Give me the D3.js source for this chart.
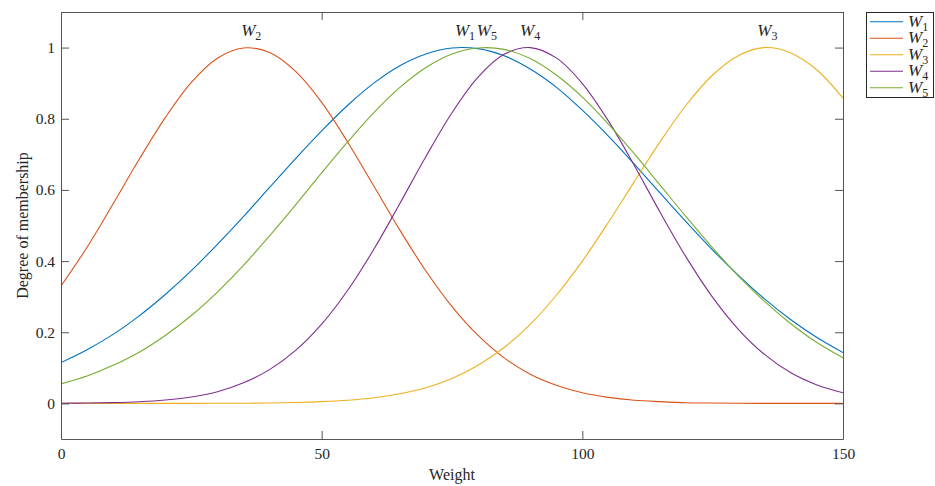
<!DOCTYPE html>
<html>
<head>
<meta charset="utf-8">
<script src="https://cdn.jsdelivr.net/npm/d3@7"></script>
<style>
  body { margin: 0; background: #fff; }
  text { font-family: "Liberation Serif", "Times New Roman", serif; fill: #262626; }
  .axis path, .axis line { stroke: #555; stroke-width: 1; }
  .axis text { font-size: 15.5px; fill: #262626; }
</style>
</head>
<body>
<div id="chart"></div>
<script>
// sample positions along the weight axis
const weight = [0, 5, 10, 15, 20, 25, 30, 35, 40, 45, 50, 55, 60, 65, 70, 75,
  80, 85, 90, 95, 100, 105, 110, 115, 120, 125, 130, 135, 140, 145, 150];

// membership values
const w1 = [0.115, 0.151, 0.194, 0.246, 0.306, 0.373, 0.447, 0.525, 0.607, 0.688, 0.766,
  0.838, 0.900, 0.949, 0.982, 0.999, 0.997, 0.977, 0.940, 0.889, 0.824, 0.751, 0.672,
  0.590, 0.509, 0.431, 0.359, 0.293, 0.235, 0.185, 0.143];
const w2 = [0.330, 0.439, 0.561, 0.686, 0.803, 0.902, 0.970, 0.999, 0.986, 0.933, 0.846,
  0.734, 0.611, 0.487, 0.372, 0.272, 0.191, 0.128, 0.082, 0.051, 0.030, 0.017, 0.009,
  0.005, 0.002, 0.001, 0.0005, 0.0002, 0.0001, 0, 0];
const w3 = [0, 0, 0, 0, 0.0001, 0.0001, 0.0003, 0.0006, 0.0013, 0.0026, 0.0049, 0.009,
  0.016, 0.027, 0.044, 0.070, 0.107, 0.157, 0.222, 0.304, 0.400, 0.509, 0.624, 0.737,
  0.840, 0.923, 0.978, 1.0, 0.985, 0.937, 0.858];
const w4 = [0.0005, 0.001, 0.0023, 0.0048, 0.0096, 0.018, 0.033, 0.058, 0.095, 0.149,
  0.223, 0.318, 0.433, 0.562, 0.694, 0.817, 0.917, 0.981, 1.0, 0.971, 0.899, 0.794,
  0.668, 0.535, 0.409, 0.298, 0.207, 0.137, 0.086, 0.052, 0.030];
const w5 = [0.055, 0.077, 0.107, 0.144, 0.191, 0.247, 0.313, 0.388, 0.471, 0.558, 0.648,
  0.735, 0.817, 0.888, 0.944, 0.982, 0.999, 0.995, 0.969, 0.923, 0.861, 0.785, 0.701,
  0.612, 0.523, 0.437, 0.357, 0.286, 0.224, 0.171, 0.128];

const seriesNames = ["1", "2", "3", "4", "5"];
const seriesValues = [w1, w2, w3, w4, w5];
const colors = ["#0072BD", "#D95319", "#EDB120", "#7E2F8E", "#77AC30"];

// peak labels drawn above each curve
const peakLabelX = [77.5, 36.5, 135.5, 90, 81.7];

const xTicks = [0, 50, 100, 150];
const yTicks = [0, 0.2, 0.4, 0.6, 0.8, 1];

const width = 935;
const height = 486;
const margin = { left: 61, right: 92, top: 12, bottom: 47 };

const svg = d3.select("#chart").append("svg")
  .attr("width", width)
  .attr("height", height);

const x = d3.scaleLinear()
  .domain([0, 150])
  .range([margin.left, width - margin.right]);

const y = d3.scaleLinear()
  .domain([-0.1, 1.1])
  .range([height - margin.bottom, margin.top]);

svg.append("defs").append("clipPath")
  .attr("id", "plot-clip")
  .append("rect")
  .attr("x", margin.left)
  .attr("y", margin.top)
  .attr("width", x(150) - x(0))
  .attr("height", y(-0.1) - y(1.1));

// curves
const line = d3.line()
  .x((d, i) => x(weight[i]))
  .y(d => y(d))
  .curve(d3.curveCatmullRom.alpha(0.5));

svg.append("g")
  .attr("clip-path", "url(#plot-clip)")
  .selectAll("path")
  .data(seriesValues)
  .join("path")
  .attr("fill", "none")
  .attr("stroke", (d, i) => colors[i])
  .attr("stroke-width", 1.1)
  .attr("d", line);

// axes with inward ticks on all four sides
svg.append("g")
  .attr("class", "axis")
  .attr("transform", `translate(0, ${y(-0.1)})`)
  .call(d3.axisBottom(x).tickValues(xTicks).tickSizeInner(-8).tickSizeOuter(0).tickPadding(9).tickFormat(d3.format("d")));

svg.append("g")
  .attr("class", "axis")
  .attr("transform", `translate(0, ${y(1.1)})`)
  .call(d3.axisTop(x).tickValues(xTicks).tickSizeInner(-8).tickSizeOuter(0).tickFormat(""));

svg.append("g")
  .attr("class", "axis")
  .attr("transform", `translate(${x(0)}, 0)`)
  .call(d3.axisLeft(y).tickValues(yTicks).tickSizeInner(-8).tickSizeOuter(0).tickPadding(6).tickFormat(d => d === 0 || d === 1 ? d3.format("d")(d) : d3.format(".1f")(d)));

svg.append("g")
  .attr("class", "axis")
  .attr("transform", `translate(${x(150)}, 0)`)
  .call(d3.axisRight(y).tickValues(yTicks).tickSizeInner(-8).tickSizeOuter(0).tickFormat(""));

svg.selectAll(".axis .domain").attr("stroke", "#555");

// axis titles
svg.append("text")
  .attr("x", (x(0) + x(150)) / 2)
  .attr("y", 480)
  .attr("text-anchor", "middle")
  .style("font-size", "16px")
  .text("Weight");

svg.append("text")
  .attr("transform", "rotate(-90)")
  .attr("x", -(y(-0.1) + y(1.1)) / 2)
  .attr("y", 28)
  .attr("text-anchor", "middle")
  .style("font-size", "16px")
  .text("Degree of membership");

// W_i text with italic W and subscript index
function addW(sel, idx) {
  sel.append("tspan").style("font-style", "italic").style("font-size", "17px").text("W");
  sel.append("tspan").attr("dy", 4).style("font-size", "12px").text(idx);
}

seriesNames.forEach((n, i) => {
  const t = svg.append("text")
    .attr("x", x(peakLabelX[i]))
    .attr("y", 36)
    .attr("text-anchor", "middle");
  addW(t, n);
});

// legend
const legend = svg.append("g").attr("transform", "translate(866, 12)");
legend.append("rect")
  .attr("x", 0.5)
  .attr("y", 0.5)
  .attr("width", 67)
  .attr("height", 85)
  .attr("fill", "#fff")
  .attr("stroke", "#262626")
  .attr("stroke-width", 1);

seriesNames.forEach((n, i) => {
  const g = legend.append("g").attr("transform", `translate(0, ${9.7 + i * 16.5})`);
  g.append("line")
    .attr("x1", 4).attr("x2", 37)
    .attr("y1", 0).attr("y2", 0)
    .attr("stroke", colors[i])
    .attr("stroke-width", 1.1);
  const t = g.append("text").attr("x", 42).attr("y", 5);
  addW(t, n);
});
</script>
</body>
</html>
